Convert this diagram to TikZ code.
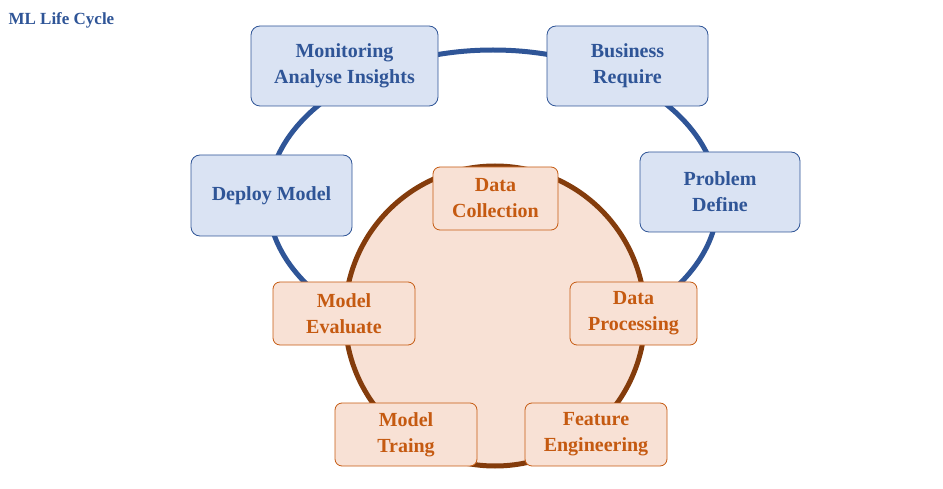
\documentclass[tikz,border=0pt]{standalone}
\usepackage{fontspec}
\setmainfont{Liberation Serif}
\begin{document}
\begin{tikzpicture}[x=1pt,y=-1pt,
  bb/.style={draw=BBd,fill=BBf,rounded corners=9pt,line width=0.8pt,text=BBt,align=center,
    font=\bfseries\fontsize{20}{26}\selectfont,inner sep=0pt},
  ob/.style={draw=OBd,fill=OBf,rounded corners=7pt,line width=0.8pt,text=OBt,align=center,
    font=\bfseries\fontsize{20}{26}\selectfont,inner sep=0pt}]
\definecolor{BBd}{HTML}{2F5597}\definecolor{BBf}{HTML}{DAE3F3}\definecolor{BBt}{HTML}{2F5597}
\definecolor{OBd}{HTML}{C55A11}\definecolor{OBf}{HTML}{F8E1D5}\definecolor{OBt}{HTML}{C55A11}
\definecolor{Ring}{HTML}{843C0C}
\useasboundingbox (0,0) rectangle (943,489);
\node[anchor=west,text=BBt,font=\bfseries\fontsize{17}{20}\selectfont] (title) at (5,20) {ML Life Cycle};
\coordinate (bc) at (493,200);
\coordinate (oc) at (495,316);
\draw[BBd,line width=5pt] (bc) ellipse [x radius=225,y radius=150];
\draw[Ring,line width=5pt,fill=OBf] (oc) circle [radius=150];
\node[bb,minimum width=187pt,minimum height=80pt] (mon) at (344.5,66) {Monitoring\\Analyse Insights};
\node[bb,minimum width=161pt,minimum height=80pt] (bus) at (627.5,66) {Business\\Require};
\node[bb,minimum width=160pt,minimum height=80pt] (pro) at (720,192) {Problem\\Define};
\node[bb,minimum width=161pt,minimum height=81pt] (dep) at (271.5,195.5) {Deploy Model};
\node[ob,minimum width=125pt,minimum height=63pt] (col) at (495.5,198.5) {Data\\Collection};
\node[ob,minimum width=142pt,minimum height=63pt] (eva) at (344,313.5) {Model\\Evaluate};
\node[ob,minimum width=127pt,minimum height=63pt] (prc) at (633.5,313.5) {Data\\Processing};
\node[ob,minimum width=142pt,minimum height=63pt] (tra) at (406,434.5) {Model\\Traing};
\node[ob,minimum width=142pt,minimum height=63pt] (fea) at (596,434.5) {Feature\\Engineering};
\end{tikzpicture}
\end{document}
